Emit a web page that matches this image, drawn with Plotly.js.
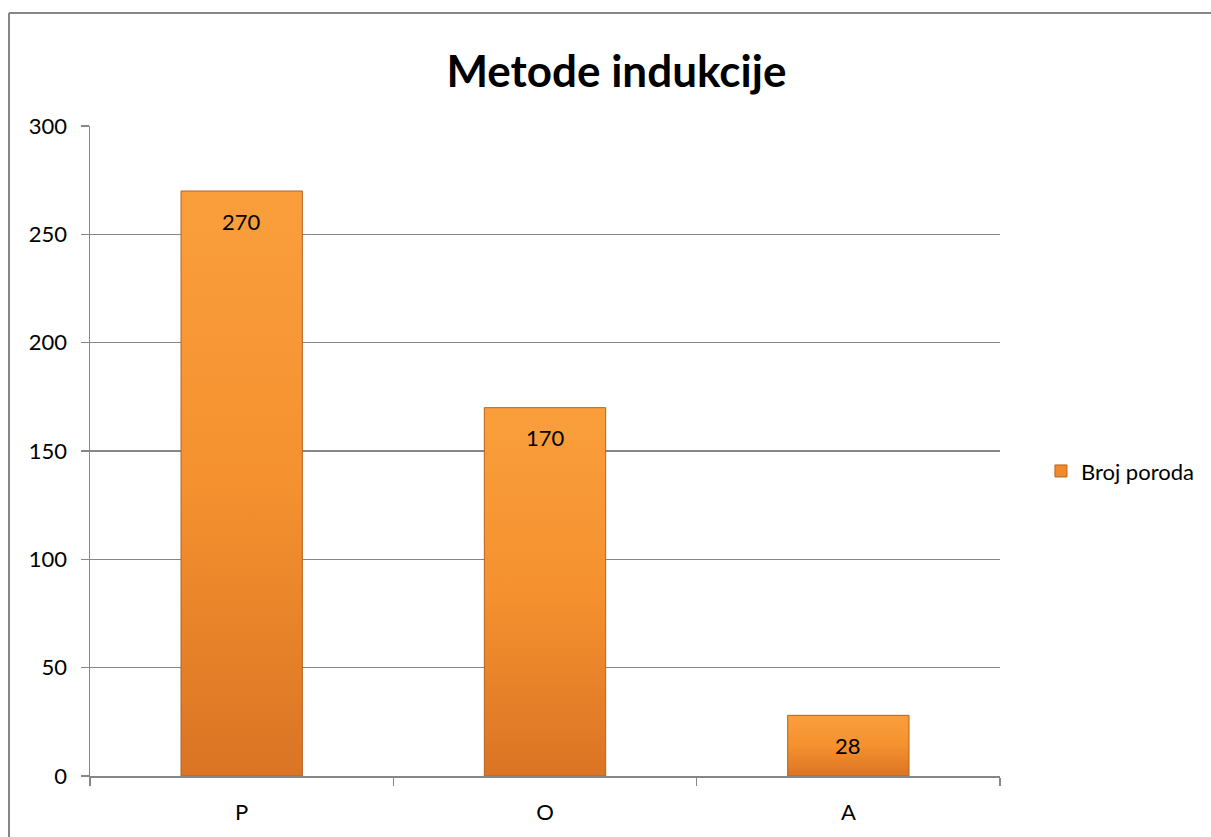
<!DOCTYPE html>
<html>
<head>
<meta charset="utf-8">
<script src="https://cdn.plot.ly/plotly-3.0.1.min.js"></script>
<style>
html,body{margin:0;padding:0;background:#fff;}
#chart{width:1211px;height:837px;}
</style>
</head>
<body>
<div id="chart"></div>
<script>
var categories = ["P", "O", "A"];
var values = [270, 170, 28];
var seriesName = "Broj poroda";
var yTicks = [0, 50, 100, 150, 200, 250, 300];

var FONT = "Lato, 'Open Sans', sans-serif";

var trace = {
  type: "bar",
  x: categories,
  y: values,
  name: seriesName,
  marker: {color: "#F28A2C", line: {color: "#B9601C", width: 1}},
  hoverinfo: "none",
  showlegend: true
};

var annotations = values.map(function (v, i) {
  return {
    x: categories[i], y: v, xref: "x", yref: "y",
    text: String(v), showarrow: false, yshift: -30,
    font: {family: FONT, size: 22, color: "#000"}
  };
});

var gray = "#868686";
var layout = {
  width: 1211, height: 837,
  margin: {l: 90, r: 211, t: 126, b: 61, pad: 0, autoexpand: false},
  paper_bgcolor: "#fff", plot_bgcolor: "#fff",
  title: {text: "<b>Metode indukcije</b>", x: 0.509, xanchor: "center", y: 0.914, yanchor: "middle",
          font: {family: FONT, size: 44, color: "#000"}},
  bargap: 0.6,
  xaxis: {
    type: "category", showgrid: false, showline: true, linecolor: gray, linewidth: 1.5,
    ticks: "outside", tickson: "boundaries", ticklen: 8, tickcolor: gray, tickwidth: 1.5,
    ticklabelstandoff: 16,
    tickfont: {family: FONT, size: 22, color: "#000"}, zeroline: false, fixedrange: true
  },
  yaxis: {
    range: [0, 300], tickvals: yTicks, showgrid: true, gridcolor: gray, gridwidth: 1.2,
    showline: true, linecolor: gray, linewidth: 1.5, ticks: "outside", ticklen: 8, tickcolor: gray, tickwidth: 1.5,
    ticklabelstandoff: 9, zeroline: false,
    tickfont: {family: FONT, size: 22, color: "#000"}, fixedrange: true
  },
  legend: {x: 1.045, y: 0.469, xanchor: "left", yanchor: "middle", font: {family: FONT, size: 22, color: "#000"},
           bgcolor: "rgba(0,0,0,0)", itemwidth: 30},
  annotations: annotations,
  shapes: [
    {type: "line", xref: "paper", yref: "paper", x0: -0.089, x1: -0.089, y0: 1.174, y1: -0.2, line: {color: gray, width: 2}},
    {type: "line", xref: "paper", yref: "paper", x0: -0.089, x1: 1.3, y0: 1.174, y1: 1.174, line: {color: gray, width: 2}}
  ]
};

Plotly.newPlot("chart", [trace], layout, {staticPlot: true, displayModeBar: false}).then(function (gd) {
  var svg = gd.querySelector("svg.main-svg");
  var ns = "http://www.w3.org/2000/svg";
  var defs = svg.querySelector("defs") || svg.insertBefore(document.createElementNS(ns, "defs"), svg.firstChild);
  var g = document.createElementNS(ns, "linearGradient");
  g.setAttribute("id", "barGrad");
  g.setAttribute("x1", "0"); g.setAttribute("y1", "0"); g.setAttribute("x2", "0"); g.setAttribute("y2", "1");
  [["0", "#FA9E3C"], ["0.5", "#F5912F"], ["1", "#DB7424"]].forEach(function (s) {
    var st = document.createElementNS(ns, "stop");
    st.setAttribute("offset", s[0]); st.setAttribute("stop-color", s[1]);
    g.appendChild(st);
  });
  defs.appendChild(g);
  gd.querySelectorAll(".barlayer .point path").forEach(function (p) {
    p.style.fill = "url(#barGrad)";
  });
});
</script>
</body>
</html>
